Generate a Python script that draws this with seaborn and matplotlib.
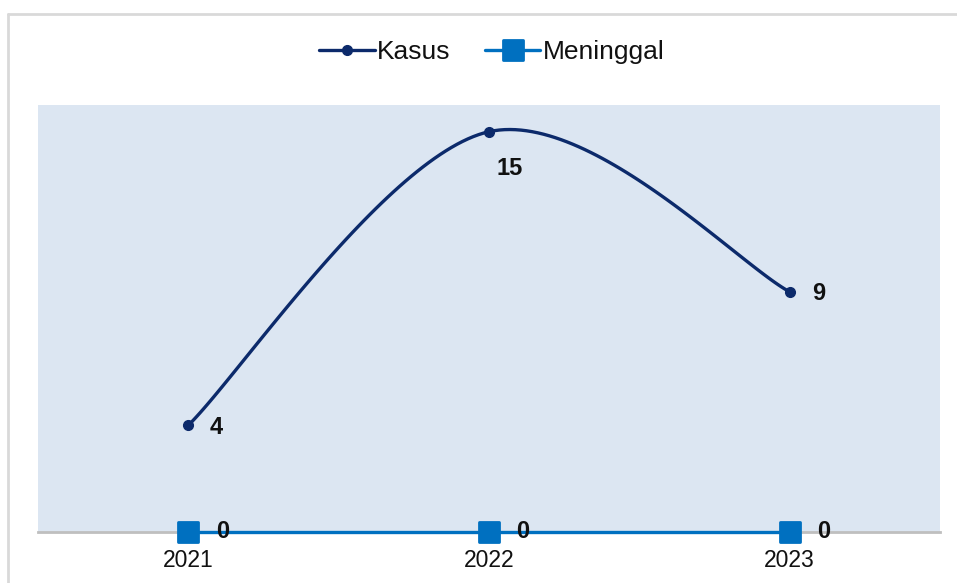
import numpy as np
import pandas as pd
import matplotlib
matplotlib.use("Agg")
import matplotlib.pyplot as plt
from matplotlib.lines import Line2D
from matplotlib.markers import MarkerStyle
import seaborn as sns

# data
tahun = ["2021", "2022", "2023"]
kasus = [4, 15, 9]
meninggal = [0, 0, 0]

navy = "#0c2a6b"
biru = "#0070c0"

sns.set_style("white")
plt.rcParams["font.family"] = ["Liberation Sans", "DejaVu Sans"]
plt.rcParams["text.color"] = "#111111"
plt.rcParams["xtick.color"] = "#111111"

fig = plt.figure(figsize=(9.57, 5.83), dpi=100)
ax = fig.add_axes([38 / 957, 1 - 532 / 583, (940 - 38) / 957, (532 - 105) / 583])
ax.set_facecolor("#dce6f2")

# bingkai luar (hanya atas dan kiri yang terlihat)
fig.add_artist(Line2D([8 / 957, 8 / 957], [0, 1 - 14 / 583], transform=fig.transFigure,
                      color="#d9d9d9", lw=2))
fig.add_artist(Line2D([8 / 957, 1], [1 - 14 / 583, 1 - 14 / 583], transform=fig.transFigure,
                      color="#d9d9d9", lw=2))

x = np.arange(len(tahun), dtype=float)
y = np.array(kasus, dtype=float)

# kurva halus ala Excel (Catmull-Rom -> Bezier)
pts = np.column_stack([x, y])
px, py = [], []
for i in range(len(pts) - 1):
    p0 = pts[max(i - 1, 0)]
    p1 = pts[i]
    p2 = pts[i + 1]
    p3 = pts[min(i + 2, len(pts) - 1)]
    c1 = p1 + (p2 - p0) / 6
    c2 = p2 - (p3 - p1) / 6
    t = np.linspace(0, 1, 60)[:, None]
    b = (1 - t) ** 3 * p1 + 3 * (1 - t) ** 2 * t * c1 + 3 * (1 - t) * t ** 2 * c2 + t ** 3 * p2
    px.extend(b[:, 0])
    py.extend(b[:, 1])
halus = pd.DataFrame({"x": px, "y": py})

sns.lineplot(data=halus, x="x", y="y", ax=ax, color=navy, lw=2.4, sort=False,
             estimator=None)
ax.plot(x, y, "o", color=navy, ms=7, zorder=4)

kotak = MarkerStyle("s", joinstyle="round")
df_m = pd.DataFrame({"x": x, "y": meninggal})
sns.lineplot(data=df_m, x="x", y="y", ax=ax, color=biru, lw=2.4, marker=kotak, ms=14,
             markeredgewidth=2, markeredgecolor=biru, clip_on=False, zorder=5)

# label data
off = [(28, -2), (21, -37), (29, -2)]
for xi, yi, (dx, dy) in zip(x, kasus, off):
    ax.annotate(str(yi), (xi, yi), xytext=(dx * 0.72, dy * 0.72), textcoords="offset points",
                ha="center", va="center", fontsize=17, fontweight="bold")
for xi, yi in zip(x, meninggal):
    ax.annotate(str(yi), (xi, yi), xytext=(34 * 0.72, 0), textcoords="offset points",
                ha="center", va="center", fontsize=17, fontweight="bold", zorder=6,
                annotation_clip=False)

ax.set_xlim(-0.5, 2.5)
ax.set_ylim(0, 16)
ax.set_xticks(x)
ax.set_xticklabels(tahun, fontsize=16.5)
ax.tick_params(axis="x", length=0, pad=12)
ax.set_yticks([])
ax.set_xlabel("")
ax.set_ylabel("")
for s in ["top", "right", "left"]:
    ax.spines[s].set_visible(False)
ax.spines["bottom"].set_color("#bfbfbf")
ax.spines["bottom"].set_linewidth(2)

handles = [
    Line2D([], [], color=navy, lw=2.4, marker="o", ms=7),
    Line2D([], [], color=biru, lw=2.4, marker=kotak, ms=14, markeredgewidth=2,
           markeredgecolor=biru),
]
fig.legend(handles, ["Kasus", "Meninggal"], loc="center", bbox_to_anchor=(492 / 957, 1 - 52 / 583),
           ncol=2, frameon=False, fontsize=19, handlelength=2.1, handletextpad=0.1,
           columnspacing=1.3)

fig.savefig("out.png", dpi=100)
